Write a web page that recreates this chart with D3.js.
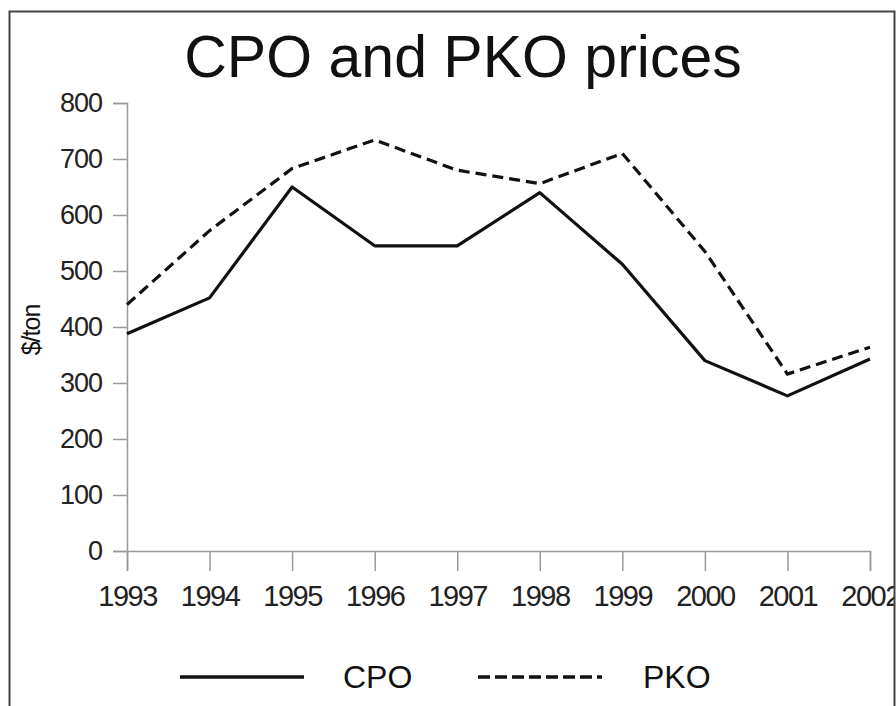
<!DOCTYPE html>
<html>
<head>
<meta charset="utf-8">
<script src="https://cdn.jsdelivr.net/npm/d3@7/dist/d3.min.js"></script>
<style>
  body { margin: 0; background: #fff; }
  svg { display: block; font-family: "Liberation Sans", Arial, sans-serif; }
</style>
</head>
<body>
<div id="chart"></div>
<script>
  // values
  var years = [1993, 1994, 1995, 1996, 1997, 1998, 1999, 2000, 2001, 2002];
  var cpo = [388, 452, 650, 545, 545, 640, 512, 340, 277, 343];
  var pko = [440, 572, 683, 734, 680, 656, 710, 535, 316, 364];
  var yTicks = [0, 100, 200, 300, 400, 500, 600, 700, 800];
  var seriesNames = ["CPO", "PKO"];

  var W = 896, H = 706;
  var svg = d3.select('#chart').append('svg').attr('width', W).attr('height', H);

  svg.append('clipPath').attr('id', 'frameClip')
    .append('rect').attr('x', 10).attr('y', 12).attr('width', 884).attr('height', 700);

  var g = svg.append('g').attr('clip-path', 'url(#frameClip)');

  var x = d3.scaleLinear().domain([1993, 2002]).range([127, 870]);
  var y = d3.scaleLinear().domain([0, 800]).range([551, 103]);

  // title
  g.append('text')
    .attr('x', 463).attr('y', 77)
    .attr('text-anchor', 'middle')
    .style('font-size', '59px')
    .attr('fill', '#111')
    .text('CPO and PKO prices');

  // y axis
  var yAxis = g.append('g')
    .attr('transform', 'translate(127,0)')
    .call(d3.axisLeft(y).tickValues(yTicks).tickSize(14).tickPadding(11).tickFormat(d3.format('d')));

  // x axis
  var xAxis = g.append('g')
    .attr('transform', 'translate(0,551)')
    .call(d3.axisBottom(x).tickValues(years).tickSize(20).tickPadding(14).tickFormat(d3.format('d')));

  [yAxis, xAxis].forEach(function (ax) {
    ax.select('.domain').attr('stroke', '#999').attr('stroke-width', 1.5);
    ax.selectAll('.tick line').attr('stroke', '#999').attr('stroke-width', 1.5);
    ax.selectAll('.tick text').attr('fill', '#222').style('font-family', '"Liberation Sans", Arial, sans-serif');
  });
  yAxis.selectAll('.tick text').style('font-size', '27px').style('letter-spacing', '-1px');
  xAxis.selectAll('.tick text').style('font-size', '29px').style('letter-spacing', '-1.5px');

  // y label
  g.append('text')
    .attr('transform', 'translate(40,330) rotate(-90)')
    .attr('text-anchor', 'middle')
    .style('font-size', '25px')
    .style('letter-spacing', '-1px')
    .attr('fill', '#111')
    .text('$/ton');

  var line = d3.line()
    .x(function (d, i) { return x(years[i]); })
    .y(function (d) { return y(d); });

  g.append('path').datum(pko)
    .attr('d', line)
    .attr('fill', 'none').attr('stroke', '#111')
    .attr('stroke-width', 3.2)
    .attr('stroke-dasharray', '11,6');

  g.append('path').datum(cpo)
    .attr('d', line)
    .attr('fill', 'none').attr('stroke', '#111')
    .attr('stroke-width', 3.2)
    .attr('stroke-linejoin', 'round');

  // legend
  var legendX = [180, 478];
  var legend = g.selectAll('.legend').data(seriesNames).enter().append('g')
    .attr('class', 'legend')
    .attr('transform', function (d, i) { return 'translate(' + legendX[i] + ',677)'; });

  legend.append('line')
    .attr('x1', 0).attr('x2', 124).attr('y1', 0).attr('y2', 0)
    .attr('stroke', '#111').attr('stroke-width', 3.5)
    .attr('stroke-dasharray', function (d, i) { return i === 1 ? '12,5' : null; });

  legend.append('text')
    .attr('x', function (d, i) { return i === 0 ? 163 : 165; })
    .attr('y', 11)
    .style('font-size', '32px')
    .attr('fill', '#111')
    .text(function (d) { return d; });

  // outer frame
  svg.append('rect')
    .attr('x', 9.5).attr('y', 11.5).attr('width', 885).attr('height', 710)
    .attr('fill', 'none').attr('stroke', '#444').attr('stroke-width', 2);
</script>
</body>
</html>
